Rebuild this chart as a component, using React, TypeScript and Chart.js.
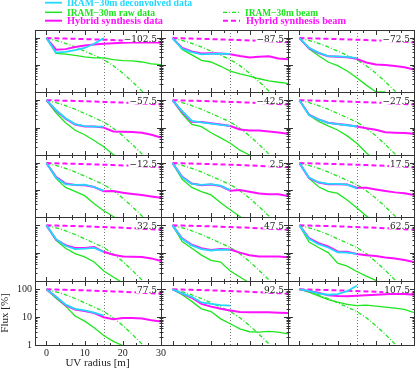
import { useEffect, useRef } from "react";
import { Chart, registerables } from "chart.js";
Chart.register(...registerables);

const W = 415;
const H = 368;

// UV radius sampling grid [m]
const UV = [0, 2.5, 5, 7.5, 10, 12.5, 15, 17.5, 20, 22.5, 25, 27.5, 30];

// Beams (same in every panel)
const IRAM_BEAM = [100, 82, 64, 47, 33, 23, 16, 9.5, 5, 2.4, 1.1, 0.45, 0.15];
const HYB_BEAM = [100, 98, 96, 94, 92, 89.5, 87, 84.5, 82, 79, 76, 73, 70];

const PANEL_LABELS = [
  "\u2212102.5", "\u221287.5", "\u221272.5",
  "\u221257.5", "\u221242.5", "\u221227.5",
  "\u221212.5", "2.5", "17.5",
  "32.5", "47.5", "62.5",
  "77.5", "92.5", "107.5",
];

// Panel -102.5
const RAW_M102 = [100, 27, 25.5, 23, 20, 18.5, 18.5, 16, 14.5, 14.2, 13, 11, 10.3];
const HYB_M102 = [100, 37, 39, 47, 53, 58, 62, 65, 67, 68, 69, 69, 68];
const DEC_M102 = [100, 29, 31, 36, 43, 62, 100];
// Panel -87.5
const RAW_M87 = [100, 38, 24, 15, 13, 9, 6, 4.7, 3.9, 3.1, 2.6, 2.3, 2.1];
const HYB_M87 = [100, 43, 32, 27, 27.5, 27, 25, 21.5, 19, 20.5, 21, 17.5, 16.5];
const DEC_M87 = [100, 40, 30, 25, 26, 26.5, 26];
// Panel -72.5
const RAW_M72 = [100, 40, 22, 13, 9.5, 6, 3.4, 1.8, 1.02, 1.0];
const HYB_M72 = [100, 42, 28, 21, 20.5, 19.5, 17, 12.5, 10.5, 10, 9.3, 8.3, 6.8];
const DEC_M72 = [100, 44, 29, 21.5, 21, 20, 18];
// Panel -57.5
const RAW_M57 = [100, 35, 15, 8, 5.5, 3.4, 2.0, 1.05, 0.5];
const HYB_M57 = [100, 42, 21, 13, 11, 11, 10, 7.2, 7, 6.9, 6.5, 5.5, 4.3];
const DEC_M57 = [100, 44, 22, 13.5, 11.3, 10.8, 10.8];
// Panel -42.5
const RAW_M42 = [100, 32, 13, 10.8, 6.5, 4.2, 2.7, 1.5, 1.0, 0.5];
const HYB_M42 = [100, 38, 16.5, 16, 14.5, 13, 11.5, 8.5, 7.8, 7.8, 7.2, 6.6, 6.0];
const DEC_M42 = [100, 40, 17.5, 15.5, 14, 12.5, 11.5];
// Panel -27.5
const RAW_M27 = [100, 28, 17, 11.5, 8.2, 5, 2.7, 1.2, 0.6];
const HYB_M27 = [100, 30, 20, 15, 13.5, 12.5, 11, 9.5, 8.3, 6.8, 6.5, 6.3, 6.0];
const DEC_M27 = [100, 29, 20, 15, 13.3, 12.2, 11];
// Panel -12.5
const RAW_M12 = [100, 27, 12.5, 9, 6.2, 3.1, 1.7, 1.05, 0.6];
const HYB_M12 = [100, 31, 17.5, 15.5, 15.2, 13, 9, 9.2, 8, 7.2, 6.5, 5.8, 5.2];
const DEC_M12 = [100, 29, 16.5, 15.5, 16, 13, 9.5];
// Panel 2.5
const RAW_P2 = [100, 25, 12.5, 8.7, 6.6, 3.4, 1.85, 1.05, 0.6];
const HYB_P2 = [100, 31, 17.5, 15.2, 16, 14, 9.5, 10, 8.7, 7.5, 7, 7, 6];
const DEC_P2 = [100, 30, 17, 15.5, 16.5, 14.5, 10];
// Panel 17.5
const RAW_P17 = [100, 27, 13.3, 9, 7.5, 4.3, 2.2, 1.1, 0.6];
const HYB_P17 = [100, 28, 19, 16.5, 16.5, 16, 12.2, 12.2, 10.5, 9.2, 8.2, 7.6, 6.6];
const DEC_P17 = [100, 29, 19.5, 17, 17, 16, 11.5];
// Panel 32.5
const RAW_P32 = [100, 29, 15, 9.7, 7.4, 4.8, 2.3, 1.4, 0.85];
const HYB_P32 = [100, 31, 19.5, 15.5, 15.5, 16.5, 11.2, 8.8, 7.6, 7.5, 7.3, 6.5, 5.2];
const DEC_P32 = [100, 32, 18.5, 14, 14.5, 15.5, 11.2];
// Panel 47.5
const RAW_P47 = [100, 26, 15, 8.5, 5.5, 4.8, 2.3, 1.4, 0.85];
const HYB_P47 = [100, 34, 20, 15, 13, 14, 13.5, 10.5, 8.5, 7.6, 7.6, 7.6, 7.2];
const DEC_P47 = [100, 33, 19, 14, 12.5, 13.5, 13.2];
// Panel 62.5
const RAW_P62 = [100, 25, 16, 10.5, 4.4, 3.4, 2.2, 1.5, 1.05, 0.6];
const HYB_P62 = [100, 35, 23, 17.5, 11.5, 11.3, 9.3, 8.5, 7.9, 7, 6.5, 5.7, 4.8];
const DEC_P62 = [100, 33, 21, 16, 10.8, 10.5, 9.5];
// Panel 77.5
const RAW_P77 = [100, 48, 25, 11, 7.2, 4.2, 2.2, 1.35, 0.95];
const HYB_P77 = [100, 54, 27, 19, 16.5, 14, 10, 8.5, 9.3, 9.3, 9, 7.8, 7];
const DEC_P77 = [100, 55, 28.5, 20, 17.5, 14.5, 11.5];
// Panel 92.5
const RAW_P92 = [100, 64, 37, 20, 16, 8.7, 5.8, 3.8, 3.0, 2.9, 3.1, 2.9, 2.5];
const HYB_P92 = [100, 70, 50, 30, 24, 20, 17.5, 15.3, 15, 15.2, 15, 14.5, 14];
const DEC_P92 = [100, 72, 54, 34, 30, 27, 26];
// Panel 107.5
const RAW_P107 = [100, 80, 58, 43, 35, 29, 26, 27, 25, 23, 21, 19, 14.5];
const HYB_P107 = [100, 88, 75, 61, 58, 57, 59, 62, 64, 67, 69, 68, 64];
const DEC_P107 = [100, 88, 72, 64, 68, 86, 135];

const RAW_SERIES = [RAW_M102, RAW_M87, RAW_M72, RAW_M57, RAW_M42, RAW_M27, RAW_M12, RAW_P2, RAW_P17, RAW_P32, RAW_P47, RAW_P62, RAW_P77, RAW_P92, RAW_P107];
const HYB_SERIES = [HYB_M102, HYB_M87, HYB_M72, HYB_M57, HYB_M42, HYB_M27, HYB_M12, HYB_P2, HYB_P17, HYB_P32, HYB_P47, HYB_P62, HYB_P77, HYB_P92, HYB_P107];
const DEC_SERIES = [DEC_M102, DEC_M87, DEC_M72, DEC_M57, DEC_M42, DEC_M27, DEC_M12, DEC_P2, DEC_P17, DEC_P32, DEC_P47, DEC_P62, DEC_P77, DEC_P92, DEC_P107];

const X_TICKS = [0, 3.333, 6.667, 10, 13.333, 16.667, 20, 23.333, 26.667, 30];
const X_MAJOR = [0, 10, 20, 30];
const Y_TICKS = [1, 2, 3, 4, 5, 6, 7, 8, 9, 10, 20, 30, 40, 50, 60, 70, 80, 90, 100, 200];
const Y_MAJOR = [1, 10, 100];
const Y_LABELS = [1, 10, 100];
const X_LABELS = [0, 10, 20, 30];

const COL_EDGES = [35, 161, 288, 414];
const ROW_EDGES = [30, 92, 155, 217, 281, 345];

const CYAN = "#22d8ff";
const GREEN = "#1ee61e";
const MAGENTA = "#ff10ff";
const FRAME = "#333333";

const toPts = (arr: number[]) => arr.map((y, i) => ({ x: UV[i], y }));

// draw text stretched horizontally to a target width
function fillFit(ctx: CanvasRenderingContext2D, text: string, x: number, y: number, width: number) {
  const w = ctx.measureText(text).width;
  ctx.save();
  ctx.translate(x, y);
  ctx.scale(width / w, 1);
  ctx.fillText(text, 0, 0);
  ctx.restore();
}

function makePlugin(idx: number) {
  return {
    id: "frame" + idx,
    beforeDatasetsDraw(chart: any) {
      const { ctx, chartArea } = chart;
      const xs = chart.scales.x;
      ctx.save();
      ctx.strokeStyle = "#777";
      ctx.lineWidth = 1;
      ctx.setLineDash([1, 2]);
      const px = Math.round(xs.getPixelForValue(15)) + 0.5;
      ctx.beginPath();
      ctx.moveTo(px, chartArea.top);
      ctx.lineTo(px, chartArea.bottom);
      ctx.stroke();
      ctx.restore();
    },
    afterDatasetsDraw(chart: any) {
      const { ctx, chartArea } = chart;
      const { left, right, top, bottom } = chartArea;
      const xs = chart.scales.x;
      const ys = chart.scales.y;
      ctx.save();
      // label with white box
      ctx.font = '9px "DejaVu Serif"';
      const label = PANEL_LABELS[idx];
      const tw = ctx.measureText(label).width;
      ctx.fillStyle = "#fff";
      ctx.fillRect(right - 4 - tw - 1, top + 4.5, tw + 2, 7.5);
      ctx.fillStyle = "#222";
      ctx.textAlign = "right";
      ctx.textBaseline = "alphabetic";
      ctx.fillText(label, right - 4, top + 12);
      // frame
      ctx.strokeStyle = FRAME;
      ctx.lineWidth = 1;
      ctx.setLineDash([]);
      ctx.strokeRect(left + 0.5, top + 0.5, right - left, bottom - top);
      ctx.beginPath();
      for (const t of X_TICKS) {
        const px = Math.round(xs.getPixelForValue(t)) + 0.5;
        const len = X_MAJOR.includes(t) ? 5 : 3;
        ctx.moveTo(px, top);
        ctx.lineTo(px, top + len);
        ctx.moveTo(px, bottom + 1);
        ctx.lineTo(px, bottom + 1 - len);
      }
      for (const v of Y_TICKS) {
        const py = Math.round(ys.getPixelForValue(v)) + 0.5;
        if (py < top || py > bottom + 1) continue;
        const len = Y_MAJOR.includes(v) ? 5 : 2.5;
        ctx.moveTo(left, py);
        ctx.lineTo(left + len, py);
        ctx.moveTo(right + 1, py);
        ctx.lineTo(right + 1 - len, py);
      }
      ctx.stroke();
      ctx.restore();
    },
    afterDraw(chart: any) {
      const { ctx } = chart;
      ctx.save();
      if (idx === 0) {
        const items = [
          { x1: 45, x2: 62, tx: 67, tw: 125, y: 2.7, color: CYAN, dash: [] as number[], w: 1.8, text: "IRAM\u221230m deconvolved data" },
          { x1: 45, x2: 62, tx: 67, tw: 88, y: 12.3, color: GREEN, dash: [], w: 1.5, text: "IRAM\u221230m raw data" },
          { x1: 45, x2: 62, tx: 67, tw: 96, y: 20.7, color: MAGENTA, dash: [], w: 2, text: "Hybrid synthesis data" },
          { x1: 223, x2: 240, tx: 245, tw: 73, y: 12.3, color: GREEN, dash: [4, 2, 1, 2], w: 1.3, text: "IRAM\u221230m beam" },
          { x1: 223, x2: 240, tx: 246, tw: 100, y: 20.7, color: MAGENTA, dash: [5, 3], w: 2, text: "Hybrid synthesis beam" },
        ];
        ctx.font = 'bold 10px "Liberation Serif"';
        ctx.textAlign = "left";
        ctx.textBaseline = "alphabetic";
        for (const it of items) {
          ctx.strokeStyle = it.color;
          ctx.lineWidth = it.w;
          ctx.setLineDash(it.dash);
          ctx.beginPath();
          ctx.moveTo(it.x1, it.y);
          ctx.lineTo(it.x2, it.y);
          ctx.stroke();
          ctx.fillStyle = it.color;
          fillFit(ctx, it.text, it.tx, it.y + 3.4, it.tw);
        }
      }
      if (idx === 12) {
        const xs = chart.scales.x;
        const ys = chart.scales.y;
        const { left, bottom } = chart.chartArea;
        ctx.fillStyle = "#222";
        ctx.font = '10px "Liberation Serif"';
        ctx.textAlign = "right";
        ctx.textBaseline = "middle";
        for (const v of Y_LABELS) {
          ctx.fillText(String(v), left - 3, ys.getPixelForValue(v));
        }
        ctx.textAlign = "center";
        for (const v of X_LABELS) {
          ctx.fillText(String(v), xs.getPixelForValue(v), bottom + 8.5);
        }
        ctx.font = '11px "Liberation Serif"';
        ctx.fillText("UV radius [m]", 97.5, 363.5);
        ctx.save();
        ctx.translate(5.5, 313);
        ctx.rotate(-Math.PI / 2);
        ctx.fillText("Flux [%]", 0, 0);
        ctx.restore();
      }
      ctx.restore();
    },
  };
}

function Panel({ idx }: { idx: number }) {
  const ref = useRef<HTMLCanvasElement>(null);
  useEffect(() => {
    const r = Math.floor(idx / 3);
    const c = idx % 3;
    const left = COL_EDGES[c];
    const right = COL_EDGES[c + 1];
    const top = ROW_EDGES[r];
    const bottom = ROW_EDGES[r + 1];
    const base = { pointRadius: 0, fill: false, tension: 0, clip: 0, spanGaps: false };
    const chart = new Chart(ref.current as HTMLCanvasElement, {
      type: "line",
      data: {
        datasets: [
          { ...base, label: "IRAM-30m deconvolved data", data: toPts(DEC_SERIES[idx]), borderColor: CYAN, borderWidth: 1.8, order: 1 },
          { ...base, label: "Hybrid synthesis data", data: toPts(HYB_SERIES[idx]), borderColor: MAGENTA, borderWidth: 2, order: 2 },
          { ...base, label: "IRAM-30m raw data", data: toPts(RAW_SERIES[idx]), borderColor: GREEN, borderWidth: 1.3, order: 3 },
          { ...base, label: "Hybrid synthesis beam", data: toPts(HYB_BEAM), borderColor: MAGENTA, borderWidth: 2, borderDash: [5, 3], order: 4 },
          { ...base, label: "IRAM-30m beam", data: toPts(IRAM_BEAM), borderColor: GREEN, borderWidth: 1.3, borderDash: [4, 2, 1, 2], order: 5 },
        ] as any,
      },
      options: {
        responsive: false,
        animation: false,
        devicePixelRatio: 1,
        events: [],
        layout: { padding: { left, top, right: W - right, bottom: H - bottom } },
        scales: {
          x: { type: "linear", min: -3, max: 30, display: false },
          y: { type: "logarithmic", min: 1, max: 200, display: false },
        },
        plugins: { legend: { display: false }, tooltip: { enabled: false } },
      } as any,
      plugins: [makePlugin(idx)],
    });
    return () => chart.destroy();
  }, [idx]);
  return (
    <canvas
      ref={ref}
      width={W}
      height={H}
      style={{ position: "absolute", left: 0, top: 0, width: W, height: H }}
    />
  );
}

export default function App() {
  return (
    <div style={{ position: "absolute", left: 0, top: 0, width: W, height: H, background: "#fff", overflow: "hidden" }}>
      {PANEL_LABELS.map((_, i) => (
        <Panel key={i} idx={i} />
      ))}
    </div>
  );
}
